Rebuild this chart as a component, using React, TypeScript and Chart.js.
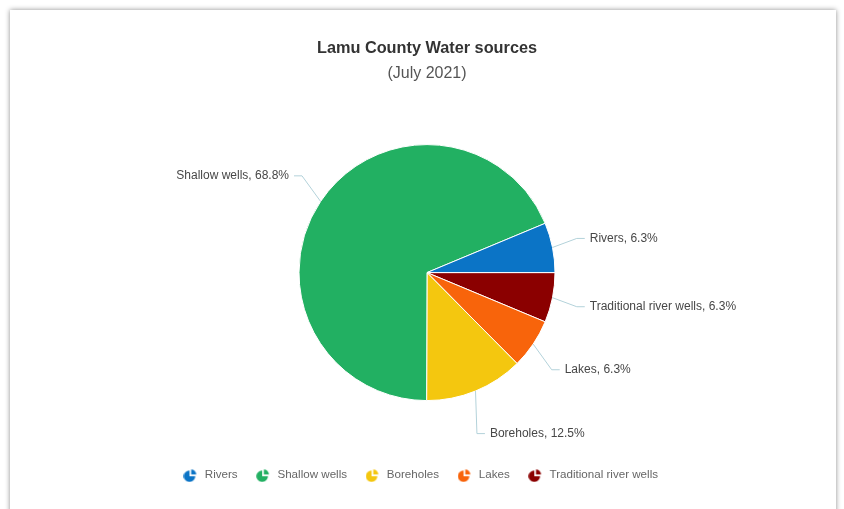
import React, { useEffect, useRef } from "react";
import { Chart, registerables } from "chart.js";

Chart.register(...registerables);

// ---- data (legend order) ----
const categories = ["Rivers", "Shallow wells", "Boreholes", "Lakes", "Traditional river wells"];
const shares = [6.3, 68.8, 12.5, 6.3, 6.3];
const colors = ["#0b74c6", "#22b062", "#f4c70f", "#f8640b", "#8b0000"];
const titleText = "Lamu County Water sources";
const subtitleText = "(July 2021)";

const FONT = "'Liberation Sans', Arial, Helvetica, sans-serif";

function makeIcon(color: string) {
  const c = document.createElement("canvas");
  c.width = 14;
  c.height = 14;
  const ctx = c.getContext("2d")!;
  ctx.fillStyle = color;
  const cx = 6, cy = 8, r = 5.8;
  ctx.beginPath();
  ctx.moveTo(cx, cy);
  ctx.arc(cx, cy, r, 0, 1.5 * Math.PI);
  ctx.closePath();
  ctx.fill();
  ctx.beginPath();
  ctx.moveTo(cx + 1.7, cy - 1.7);
  ctx.arc(cx + 1.7, cy - 1.7, r - 0.7, 1.5 * Math.PI, 2 * Math.PI);
  ctx.closePath();
  ctx.fill();
  return c;
}

const labelPlugin = {
  id: "pieOutsideLabels",
  afterLayout(chart: any) {
    // the reference legend row sits slightly left of the pie centre
    if (chart.legend) {
      chart.legend.left -= 7;
      chart.legend.right -= 7;
    }
  },
  afterDatasetsDraw(chart: any) {
    const ctx = chart.ctx as CanvasRenderingContext2D;
    const meta = chart.getDatasetMeta(0);
    const labels = chart.data.labels as string[];
    const data = chart.data.datasets[0].data as number[];
    ctx.save();
    ctx.font = `12px ${FONT}`;
    ctx.textBaseline = "middle";
    meta.data.forEach((arc: any, i: number) => {
      const p = arc.getProps(["x", "y", "startAngle", "endAngle", "outerRadius"], true);
      const a = (p.startAngle + p.endAngle) / 2;
      const cos = Math.cos(a);
      const sin = Math.sin(a);
      const right = cos >= 0;
      const dir = right ? 1 : -1;
      const sx = p.x + p.outerRadius * cos;
      const sy = p.y + p.outerRadius * sin;
      const ly = p.y + (p.outerRadius + 46) * sin;
      const lx = p.x + (p.outerRadius + 38) * cos;
      const end = lx - dir * 5;
      const elbow = end - dir * 8;
      ctx.strokeStyle = "#b3d2da";
      ctx.lineWidth = 1;
      ctx.beginPath();
      ctx.moveTo(sx, sy);
      ctx.lineTo(elbow, ly);
      ctx.lineTo(end, ly);
      ctx.stroke();
      ctx.fillStyle = "#474747";
      ctx.textAlign = right ? "left" : "right";
      ctx.fillText(`${labels[i]}, ${data[i]}%`, lx, ly);
    });
    ctx.restore();
  },
};

export default function App() {
  const ref = useRef<HTMLCanvasElement | null>(null);

  useEffect(() => {
    if (!ref.current) return;
    // Slices run counter-clockwise in the reference: draw reversed, clockwise.
    const labelsR = [...categories].reverse();
    const valuesR = [...shares].reverse();
    const colorsR = [...colors].reverse();
    const icons = colors.map(makeIcon);

    const baseGen = (Chart as any).overrides.doughnut.plugins.legend.labels.generateLabels;

    const chart = new Chart(ref.current, {
      type: "pie",
      data: {
        labels: labelsR,
        datasets: [
          {
            data: valuesR,
            backgroundColor: colorsR,
            borderColor: "#ffffff",
            borderWidth: 1,
            radius: 128,
          } as any,
        ],
      },
      options: {
        responsive: false,
        animation: false,
        rotation: 90,
        layout: { padding: { left: 10, right: 0, top: 0, bottom: 18 } },
        plugins: {
          title: {
            display: true,
            text: titleText,
            color: "#333333",
            font: { size: 16.3, weight: "bold", family: FONT },
            padding: { top: 39, bottom: 5 },
          },
          subtitle: {
            display: true,
            text: subtitleText,
            color: "#555555",
            font: { size: 16, family: FONT },
            padding: { top: 0, bottom: 10 },
          },
          legend: {
            position: "bottom",
            labels: {
              usePointStyle: true,
              pointStyleWidth: 17,
              padding: 17,
              color: "#666666",
              font: { size: 11.6, family: FONT },
              generateLabels: (c: any) => {
                const items = baseGen(c);
                items.forEach((it: any) => {
                  const name = labelsR[it.index];
                  it.pointStyle = icons[categories.indexOf(name)];
                });
                return items.reverse();
              },
            },
          },
          tooltip: { enabled: false },
        },
      } as any,
      plugins: [labelPlugin],
    });
    return () => chart.destroy();
  }, []);

  return (
    <div style={{ position: "fixed", left: 0, top: 0, width: 844, height: 509, background: "#fff", overflow: "hidden" }}>
      <div
        style={{
          position: "absolute",
          left: 10,
          top: 10,
          width: 826,
          height: 540,
          background: "#fff",
          boxShadow: "0 0 5px rgba(0,0,0,0.45)",
        }}
      />
      <canvas ref={ref} width={844} height={509} style={{ position: "absolute", left: 0, top: 0, display: "block" }} />
    </div>
  );
}
